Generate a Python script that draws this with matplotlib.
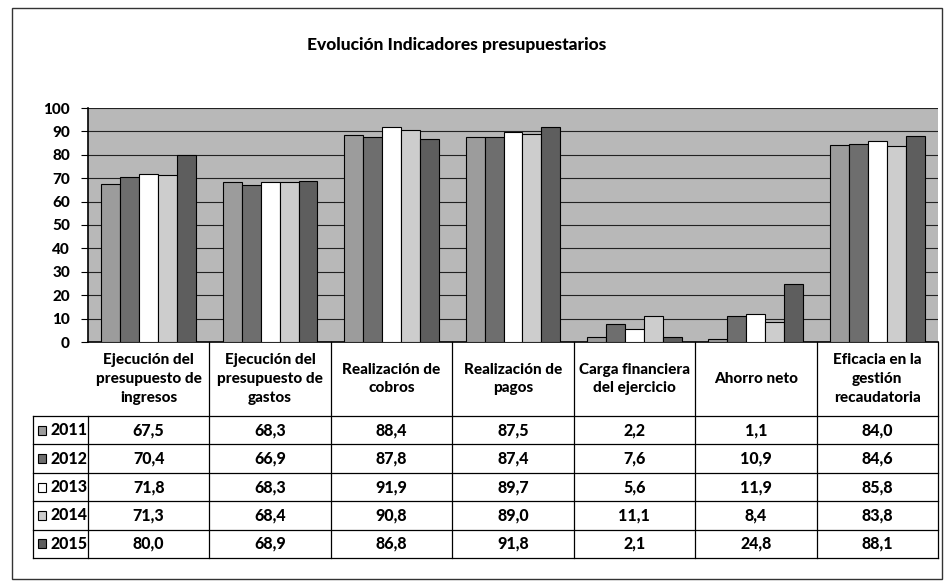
import matplotlib.pyplot as plt
from matplotlib.patches import Rectangle
import numpy as np

categorias = ["Ejecución del\npresupuesto de\ningresos",
              "Ejecución del\npresupuesto de\ngastos",
              "Realización de\ncobros",
              "Realización de\npagos",
              "Carga financiera\ndel ejercicio",
              "Ahorro neto",
              "Eficacia en la\ngestión\nrecaudatoria"]
anios = ["2011", "2012", "2013", "2014", "2015"]
v2011 = [67.5, 68.3, 88.4, 87.5, 2.2, 1.1, 84.0]
v2012 = [70.4, 66.9, 87.8, 87.4, 7.6, 10.9, 84.6]
v2013 = [71.8, 68.3, 91.9, 89.7, 5.6, 11.9, 85.8]
v2014 = [71.3, 68.4, 90.8, 89.0, 11.1, 8.4, 83.8]
v2015 = [80.0, 68.9, 86.8, 91.8, 2.1, 24.8, 88.1]
series = [v2011, v2012, v2013, v2014, v2015]
colores = ["#9c9c9c", "#6e6e6e", "#ffffff", "#cdcdcd", "#5e5e5e"]

plt.rcParams['font.family'] = ['Lato', 'DejaVu Sans']
FW = 900  # texto muy negrita como en el original

W, H = 945, 587
fig = plt.figure(figsize=(W / 100, H / 100), dpi=100)

def px_axes(x0, y0, x1, y1):
    return fig.add_axes([x0 / W, 1 - y1 / H, (x1 - x0) / W, (y1 - y0) / H])

# marco exterior
fig.patches.append(Rectangle((12 / W, 1 - 579 / H), 930 / W, 571 / H,
                             transform=fig.transFigure, fill=False,
                             edgecolor="#333333", lw=1))
fig.text(457 / W, 1 - 45 / H, "Evolución Indicadores presupuestarios",
         ha="center", va="center", fontsize=12.5, fontweight=FW)

# grafico de barras
ax = px_axes(88, 108, 938, 342)
n = len(categorias)
x = np.arange(n)
bw = 0.156
for i, (vals, c) in enumerate(zip(series, colores)):
    ax.bar(x + (i - 2) * bw, vals, bw, color=c, edgecolor="black", lw=0.8, zorder=3)
ax.set_xlim(-0.5, n - 0.5)
ax.set_ylim(0, 100)
ax.set_yticks(range(0, 101, 10))
ax.set_facecolor("#b8b8b8")
ax.yaxis.grid(True, color="#222222", lw=0.8, zorder=1)
ax.set_xticks([])
ax.tick_params(axis="y", labelsize=11, length=5, width=0.8, pad=8)
for lab in ax.get_yticklabels():
    lab.set_fontweight(FW)
for s in ["top", "right"]:
    ax.spines[s].set_visible(False)
ax.spines["left"].set_linewidth(1.2)
ax.spines["bottom"].set_linewidth(1.2)

# tabla de datos
tb = px_axes(88, 342, 938, 558)
tb.set_xlim(-0.5, n - 0.5)
tb.set_ylim(216, 0)
tb.axis("off")
header_bottom = 74
row_h = (216 - header_bottom) / 5
leg_left = -0.5 - 55 / (850 / n)

lk = dict(color="black", lw=0.9, clip_on=False)
# separadores verticales
for b in np.arange(n + 1) - 0.5:
    y_top = 0 if b > -0.5 else header_bottom
    tb.plot([b, b], [y_top, 216], **lk)
tb.plot([leg_left, leg_left], [header_bottom, 216], **lk)
# lineas horizontales
for r in range(6):
    y = header_bottom + r * row_h
    tb.plot([leg_left, n - 0.5], [y, y], **lk)

for j, cat in enumerate(categorias):
    tb.text(j, header_bottom / 2, cat, ha="center", va="center",
            fontsize=11, fontweight=FW, linespacing=1.45)

for r, (anio, vals, c) in enumerate(zip(anios, series, colores)):
    yc = header_bottom + (r + 0.5) * row_h
    tb.add_patch(Rectangle((leg_left + 0.045, yc - 4.5), 0.065, 9,
                           facecolor=c, edgecolor="black", lw=0.8, clip_on=False))
    tb.text(leg_left + 0.14, yc, anio, ha="left", va="center",
            fontsize=11.5, fontweight=FW)
    for j, v in enumerate(vals):
        tb.text(j, yc, f"{v:.1f}".replace(".", ","), ha="center", va="center",
                fontsize=11.5, fontweight=FW)

fig.savefig("out.png", dpi=100, facecolor="white")
